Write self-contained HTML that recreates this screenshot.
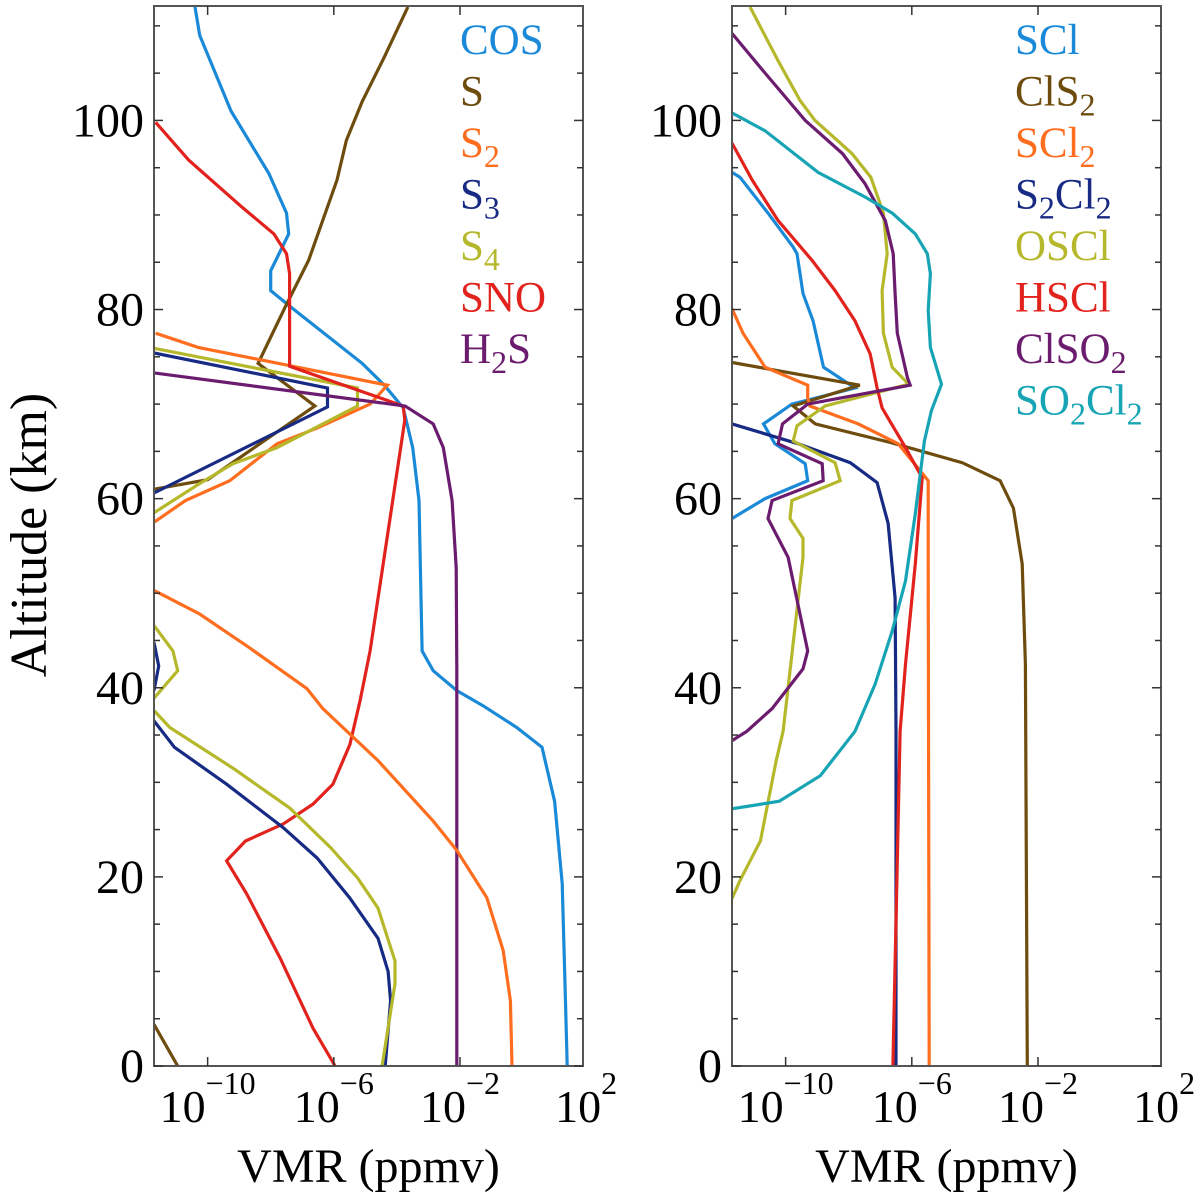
<!DOCTYPE html>
<html><head><meta charset="utf-8">
<style>
html,body{margin:0;padding:0;background:#fff;}
svg{display:block;}
svg text{font-family:"Liberation Serif","DejaVu Serif",serif;}
</style></head>
<body>
<svg id="chart" width="1200" height="1203" viewBox="0 0 1200 1203" xmlns="http://www.w3.org/2000/svg"></svg>
<script>
// ---- data: [altitude km, log10 VMR] ----
const cosAlt=[112,109,101,94.4,90.2,88,84.1,82,80.1,74.3,72,69.6,65.4,59.8,43.9,41.8,39.7,38.1,35.8,33.7,28,19.3,8.7,0];
const cosLog=[-10.4,-10.25,-9.26,-8.06,-7.5,-7.43,-8,-8,-7.3,-5.1,-4.4,-3.8,-3.5,-3.3,-3.2,-2.85,-2.1,-1.27,-0.2,0.6,1.0,1.24,1.33,1.4];
const sAlt=[112,106.7,102,97.9,93.7,85.2,80.2,74.3,69.8,62,61];
const sLog=[-3.65,-4.4,-5.1,-5.6,-5.9,-6.8,-7.55,-8.4,-6.6,-10.0,-11.7];
const sLowAlt=[4.4,0];
const sLowLog=[-11.7,-10.95];
const s2Alt=[77.5,76,72,70,67.5,65.8,61.9,59.8,57.5];
const s2Log=[-11.65,-10.3,-4.3,-4.85,-6.5,-7.8,-9.3,-10.7,-11.7];
const s2LowAlt=[50.3,47.8,44.2,39.9,37.8,32.3,25.9,22.8,17.8,12.2,6.9,0];
const s2LowLog=[-11.7,-10.25,-8.66,-6.85,-6.35,-4.6,-2.85,-2.1,-1.15,-0.63,-0.4,-0.35];
const s3Alt=[75.4,71.7,69.7,60.6];
const s3Log=[-11.7,-6.2,-6.2,-11.7];
const s3MidAlt=[44.8,42.3,39.7];
const s3MidLog=[-11.7,-11.55,-11.7];
const s3LowAlt=[36.5,33.7,29.8,25.2,22,17.8,13.5,10,6.9,0];
const s3LowLog=[-11.7,-11.05,-9.4,-7.6,-6.53,-5.5,-4.6,-4.28,-4.2,-4.37];
const s4Alt=[75.9,71.7,69.8,65.4,63.7,61.6,58.5];
const s4Log=[-11.7,-5.25,-5.25,-7.8,-9.2,-10.25,-11.7];
const s4MidAlt=[46.6,43.9,41.8,38.9];
const s4MidLog=[-11.7,-11.1,-10.95,-11.7];
const s4LowAlt=[37.6,35.8,31.5,27.3,23.1,19.9,16.7,11.1,8.7,0];
const s4LowLog=[-11.7,-11.2,-9.2,-7.4,-6.1,-5.25,-4.6,-4.06,-4.06,-4.47];
const snoAlt=[99.8,95.8,90.8,88,85.9,83.8,74,69.8,68.3,43.9,38.6,34,29.8,27.7,25.6,23.8,21.7,18.2,11.4,4,0];
const snoLog=[-11.65,-10.6,-8.9,-7.9,-7.5,-7.4,-7.4,-3.8,-3.75,-4.85,-5.17,-5.49,-6.03,-6.66,-7.6,-8.8,-9.4,-8.76,-7.7,-6.66,-5.96];
const h2sAlt=[73.3,69.8,67.9,65.4,59.8,52.7,42.1,0];
const h2sLog=[-11.7,-3.74,-2.85,-2.53,-2.25,-2.12,-2.1,-2.1];

const sclAlt=[94.5,94,90.2,86.6,85.9,81.7,78.8,73.9,71.7,70,67.9,65.8,63.7,61.9,60,57.9];
const sclLog=[-11.7,-11.45,-10.56,-9.76,-9.64,-9.45,-9.13,-8.8,-7.8,-9.8,-10.7,-10.34,-9.38,-9.3,-10.65,-11.7];
const cls2Alt=[74.4,72,69.8,67.9,65.9,63.8,61.9,59,53.1,42.5,0];
const cls2Log=[-11.7,-7.65,-9.76,-9.06,-6.62,-4.4,-3.2,-2.78,-2.5,-2.4,-2.34];
const scl2Alt=[80.1,77.5,73.9,72,70.7,69.8,67.9,65.8,61.9,53.1,0];
const scl2Log=[-11.7,-11.35,-10.65,-9.3,-9.3,-9.23,-7.7,-6.43,-5.48,-5.48,-5.45];
const s2cl2Alt=[67.9,65.8,63.8,61.7,57.4,49.5,35.4,0];
const s2cl2Log=[-11.7,-9.6,-7.95,-7.1,-6.75,-6.53,-6.5,-6.5];
const osclAlt=[112,106.3,102.1,100,96.5,94,90.2,85.9,82,77.5,73.9,72.1,69.8,67.7,66.1,63.8,61.9,59.8,57.9,55.8,53.8,35.4,32.3,23.8,19.6,17.7];
const osclLog=[-11.13,-10.24,-9.54,-9.07,-7.9,-7.3,-6.9,-6.78,-6.94,-6.9,-6.62,-6.1,-8.75,-9.64,-9.76,-8.43,-8.27,-9.8,-9.86,-9.45,-9.45,-10.08,-10.3,-10.8,-11.45,-11.7];
const hsclAlt=[97.6,93.7,89.4,85.2,82,78.8,75.3,71.7,69.6,65.4,62.2,53.1,42.5,35.4,0];
const hsclLog=[-11.7,-11.06,-10.24,-9.16,-8.43,-7.8,-7.32,-7.1,-6.94,-6.2,-5.67,-5.89,-6.2,-6.37,-6.6];
const clso2Alt=[109.2,105,100,96.5,93.3,89.4,85.9,81.7,77.5,72.8,72,70,67.9,65.8,63.7,61.9,59.8,57.9,53.8,43.9,42,37.8,35.4,34.4];
const clso2Log=[-11.7,-10.65,-9.38,-8.2,-7.48,-6.84,-6.59,-6.53,-6.46,-6.14,-6.05,-9.3,-10.1,-10.24,-8.84,-8.81,-10.43,-10.56,-9.92,-9.3,-9.45,-10.43,-11.23,-11.7];
const so2cl2Alt=[100.8,98.9,94.5,91.9,90.2,88,85.9,83.8,79.9,76,72.1,69.3,66.1,58.4,51.3,46,40.4,35.4,30.7,28,27.2];
const so2cl2Log=[-11.7,-10.65,-8.97,-7.48,-6.62,-5.89,-5.51,-5.41,-5.48,-5.41,-5.06,-5.38,-5.6,-5.89,-6.2,-6.62,-7.16,-7.8,-8.9,-10.2,-11.7];

const yTicks=[0,20,40,60,80,100];
const xTickExps=[-10,-6,-2,2];
const leftLegend=[["COS",""],["S",""],["S","2",""],["S","3",""],["S","4",""],["SNO",""],["H","2","S"]];
const rightLegend=[["SCl",""],["ClS","2",""],["SCl","2",""],["S","2","Cl","2",""],["OSCl",""],["HSCl",""],["ClSO","2",""],["SO","2","Cl","2",""]];

const C={blue:"#1a8ad8",brown:"#6e4c0e",orange:"#ff6d1f",navy:"#172a84",olive:"#b6b82c",red:"#e2221c",purple:"#6c1c6e",teal:"#17a5b5"};
const NS="http://www.w3.org/2000/svg";
const FONT='"Liberation Serif","DejaVu Serif",serif';
const svg=document.getElementById("chart");
const yTop=6, yBot=1066, altMax=112.1;
const Y=a=>yBot-(a/altMax)*(yBot-yTop);
const logMin=-11.7, logMax=1.9;
function mk(tag,attrs,parent){const e=document.createElementNS(NS,tag);for(const k in attrs)e.setAttribute(k,attrs[k]);if(tag==="text")e.setAttribute("font-family",FONT);(parent||svg).appendChild(e);return e;}

function panel(x0,x1,name,series,legend,legendX){
  const X=l=>x0+(l-logMin)/(logMax-logMin)*(x1-x0);
  const g=mk("g",{});
  
  
  const clip=mk("clipPath",{id:name+"-clip"},g);
  mk("rect",{x:x0,y:yTop,width:x1-x0,height:yBot-yTop},clip);
  const lines=mk("g",{"clip-path":"url(#"+name+"-clip)"},g);
  series.forEach(s=>{
    const d=s.alt.map((a,i)=>(i?"L":"M")+X(s.log[i]).toFixed(1)+","+Y(a).toFixed(1)).join("");
    const p=mk("path",{d:d,fill:"none",stroke:s.color,"stroke-width":3.2,"stroke-linejoin":"miter"},lines);
    
    
  });
  const fr=mk("rect",{x:x0,y:yTop,width:x1-x0,height:yBot-yTop,fill:"none",stroke:"#555","stroke-width":2},g);
  
  
  for(let a=0;a<=110;a+=5){
    const L=a%20===0?9:6;
    mk("line",{x1:x0,x2:x0+L,y1:Y(a),y2:Y(a),stroke:"#333","stroke-width":1.5},g);
    mk("line",{x1:x1,x2:x1-L,y1:Y(a),y2:Y(a),stroke:"#333","stroke-width":1.5},g);
  }
  yTicks.forEach(t=>{
    const tx=mk("text",{x:x0-10,y:Y(t)+16,"text-anchor":"end","font-size":48},g);
    tx.textContent=t;
    
    
  });
  xTickExps.forEach(e=>{
    const x=X(e);
    if(e<logMax){
      mk("line",{x1:x,x2:x,y1:yBot,y2:yBot-9,stroke:"#333","stroke-width":1.5},g);
      mk("line",{x1:x,x2:x,y1:yTop,y2:yTop+9,stroke:"#333","stroke-width":1.5},g);
    }
    const tx=mk("text",{x:x,y:1122,"text-anchor":"middle","font-size":46},g);
    
    
    const b=mk("tspan",{},tx);b.textContent="10";
    const ex=mk("tspan",{dy:-28,"font-size":32},tx);ex.textContent=(e<0?"\u2212":"")+Math.abs(e);
  });
  const xl=mk("text",{x:(x0+x1)/2,y:1182,"text-anchor":"middle","font-size":48},g);
  xl.textContent="VMR (ppmv)";
  
  
  legend.forEach((parts,i)=>{
    const t=mk("text",{x:legendX,y:54+i*51.5,"font-size":43,fill:series[i].color},g);
    
    
    let sub=false;
    parts.forEach((p,j)=>{
      if(j===0){const s=mk("tspan",{},t);s.textContent=p;return;}
      sub=!sub;
      if(p==="") return;
      const s=mk("tspan",{},t);
      if(sub){s.setAttribute("dy",10);s.setAttribute("font-size",32);}
      else{s.setAttribute("dy",-10);s.setAttribute("font-size",43);}
      s.textContent=p;
    });
  });
}

panel(154,583,"left-panel",[
  {name:"cos-line",alt:cosAlt,log:cosLog,color:C.blue},
  {name:"s-line",alt:sAlt,log:sLog,color:C.brown},
  {name:"s2-line",alt:s2Alt,log:s2Log,color:C.orange},
  {name:"s3-line",alt:s3Alt,log:s3Log,color:C.navy},
  {name:"s4-line",alt:s4Alt,log:s4Log,color:C.olive},
  {name:"sno-line",alt:snoAlt,log:snoLog,color:C.red},
  {name:"h2s-line",alt:h2sAlt,log:h2sLog,color:C.purple},
  {name:"s-low-line",alt:sLowAlt,log:sLowLog,color:C.brown},
  {name:"s2-low-line",alt:s2LowAlt,log:s2LowLog,color:C.orange},
  {name:"s3-mid-line",alt:s3MidAlt,log:s3MidLog,color:C.navy},
  {name:"s3-low-line",alt:s3LowAlt,log:s3LowLog,color:C.navy},
  {name:"s4-mid-line",alt:s4MidAlt,log:s4MidLog,color:C.olive},
  {name:"s4-low-line",alt:s4LowAlt,log:s4LowLog,color:C.olive}
],leftLegend,460);

panel(732,1161,"right-panel",[
  {name:"scl-line",alt:sclAlt,log:sclLog,color:C.blue},
  {name:"cls2-line",alt:cls2Alt,log:cls2Log,color:C.brown},
  {name:"scl2-line",alt:scl2Alt,log:scl2Log,color:C.orange},
  {name:"s2cl2-line",alt:s2cl2Alt,log:s2cl2Log,color:C.navy},
  {name:"oscl-line",alt:osclAlt,log:osclLog,color:C.olive},
  {name:"hscl-line",alt:hsclAlt,log:hsclLog,color:C.red},
  {name:"clso2-line",alt:clso2Alt,log:clso2Log,color:C.purple},
  {name:"so2cl2-line",alt:so2cl2Alt,log:so2cl2Log,color:C.teal}
],rightLegend,1015);

const yl=mk("text",{x:0,y:0,"text-anchor":"middle","font-size":52,transform:"translate(46,535) rotate(-90)"});
yl.textContent="Altitude (km)";


</script>
</body></html>
